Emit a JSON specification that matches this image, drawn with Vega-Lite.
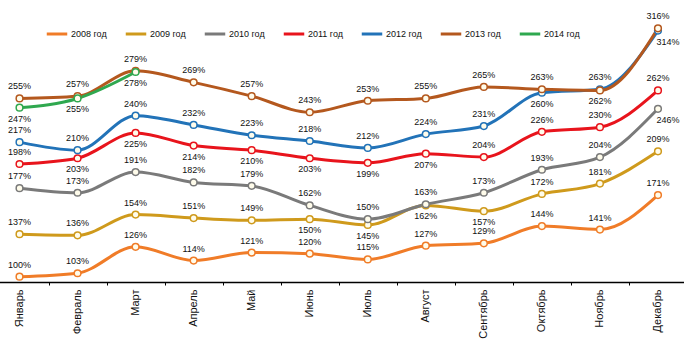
{
  "$schema": "https://vega.github.io/schema/vega-lite/v6.json",
  "width": 684,
  "height": 282,
  "padding": {"left": 0, "top": 0, "right": 0, "bottom": 59},
  "autosize": {"type": "none"},
  "background": "white",
  "config": {
    "font": "Liberation Sans",
    "view": {"stroke": null}
  },
  "data": {
    "values": [
      {"year": "2008 год", "month": "Январь", "value": 100},
      {"year": "2008 год", "month": "Февраль", "value": 103},
      {"year": "2008 год", "month": "Март", "value": 126},
      {"year": "2008 год", "month": "Апрель", "value": 114},
      {"year": "2008 год", "month": "Май", "value": 121},
      {"year": "2008 год", "month": "Июнь", "value": 120},
      {"year": "2008 год", "month": "Июль", "value": 115},
      {"year": "2008 год", "month": "Август", "value": 127},
      {"year": "2008 год", "month": "Сентябрь", "value": 129},
      {"year": "2008 год", "month": "Октябрь", "value": 144},
      {"year": "2008 год", "month": "Ноябрь", "value": 141},
      {"year": "2008 год", "month": "Декабрь", "value": 171},
      {"year": "2009 год", "month": "Январь", "value": 137},
      {"year": "2009 год", "month": "Февраль", "value": 136},
      {"year": "2009 год", "month": "Март", "value": 154},
      {"year": "2009 год", "month": "Апрель", "value": 151},
      {"year": "2009 год", "month": "Май", "value": 149},
      {"year": "2009 год", "month": "Июнь", "value": 150},
      {"year": "2009 год", "month": "Июль", "value": 145},
      {"year": "2009 год", "month": "Август", "value": 162},
      {"year": "2009 год", "month": "Сентябрь", "value": 157},
      {"year": "2009 год", "month": "Октябрь", "value": 172},
      {"year": "2009 год", "month": "Ноябрь", "value": 181},
      {"year": "2009 год", "month": "Декабрь", "value": 209},
      {"year": "2010 год", "month": "Январь", "value": 177},
      {"year": "2010 год", "month": "Февраль", "value": 173},
      {"year": "2010 год", "month": "Март", "value": 191},
      {"year": "2010 год", "month": "Апрель", "value": 182},
      {"year": "2010 год", "month": "Май", "value": 179},
      {"year": "2010 год", "month": "Июнь", "value": 162},
      {"year": "2010 год", "month": "Июль", "value": 150},
      {"year": "2010 год", "month": "Август", "value": 163},
      {"year": "2010 год", "month": "Сентябрь", "value": 173},
      {"year": "2010 год", "month": "Октябрь", "value": 193},
      {"year": "2010 год", "month": "Ноябрь", "value": 204},
      {"year": "2010 год", "month": "Декабрь", "value": 246},
      {"year": "2011 год", "month": "Январь", "value": 198},
      {"year": "2011 год", "month": "Февраль", "value": 203},
      {"year": "2011 год", "month": "Март", "value": 225},
      {"year": "2011 год", "month": "Апрель", "value": 214},
      {"year": "2011 год", "month": "Май", "value": 210},
      {"year": "2011 год", "month": "Июнь", "value": 203},
      {"year": "2011 год", "month": "Июль", "value": 199},
      {"year": "2011 год", "month": "Август", "value": 207},
      {"year": "2011 год", "month": "Сентябрь", "value": 204},
      {"year": "2011 год", "month": "Октябрь", "value": 226},
      {"year": "2011 год", "month": "Ноябрь", "value": 230},
      {"year": "2011 год", "month": "Декабрь", "value": 262},
      {"year": "2012 год", "month": "Январь", "value": 217},
      {"year": "2012 год", "month": "Февраль", "value": 210},
      {"year": "2012 год", "month": "Март", "value": 240},
      {"year": "2012 год", "month": "Апрель", "value": 232},
      {"year": "2012 год", "month": "Май", "value": 223},
      {"year": "2012 год", "month": "Июнь", "value": 218},
      {"year": "2012 год", "month": "Июль", "value": 212},
      {"year": "2012 год", "month": "Август", "value": 224},
      {"year": "2012 год", "month": "Сентябрь", "value": 231},
      {"year": "2012 год", "month": "Октябрь", "value": 260},
      {"year": "2012 год", "month": "Ноябрь", "value": 263},
      {"year": "2012 год", "month": "Декабрь", "value": 314},
      {"year": "2013 год", "month": "Январь", "value": 255},
      {"year": "2013 год", "month": "Февраль", "value": 257},
      {"year": "2013 год", "month": "Март", "value": 279},
      {"year": "2013 год", "month": "Апрель", "value": 269},
      {"year": "2013 год", "month": "Май", "value": 257},
      {"year": "2013 год", "month": "Июнь", "value": 243},
      {"year": "2013 год", "month": "Июль", "value": 253},
      {"year": "2013 год", "month": "Август", "value": 255},
      {"year": "2013 год", "month": "Сентябрь", "value": 265},
      {"year": "2013 год", "month": "Октябрь", "value": 263},
      {"year": "2013 год", "month": "Ноябрь", "value": 262},
      {"year": "2013 год", "month": "Декабрь", "value": 316},
      {"year": "2014 год", "month": "Январь", "value": 247},
      {"year": "2014 год", "month": "Февраль", "value": 255},
      {"year": "2014 год", "month": "Март", "value": 278}
    ]
  },
  "transform": [
    {"calculate": "datum.value + '%'", "as": "label"},
    {"calculate": "datum.year + '|' + datum.month", "as": "key"},
    {"calculate": "indexof(['2010 год|Декабрь','2012 год|Декабрь'], datum.key) >= 0 ? 'right' : (indexof(['2009 год|Июнь','2009 год|Июль','2009 год|Август','2009 год|Сентябрь','2011 год|Февраль','2011 год|Март','2011 год|Апрель','2011 год|Май','2011 год|Июнь','2011 год|Июль','2011 год|Август','2012 год|Октябрь','2013 год|Ноябрь','2014 год|Январь','2014 год|Февраль','2014 год|Март'], datum.key) >= 0 ? 'below' : 'above')", "as": "place"}
  ],
  "encoding": {
    "x": {
      "field": "month",
      "type": "ordinal",
      "sort": ["Январь","Февраль","Март","Апрель","Май","Июнь","Июль","Август","Сентябрь","Октябрь","Ноябрь","Декабрь"],
      "scale": {"type": "band", "range": [-9.5, 687], "paddingInner": 0, "paddingOuter": 0},
      "axis": {
        "title": null,
        "tickBand": "extent",
        "labelAngle": -90,
        "labelAlign": "right",
        "labelBaseline": "middle",
        "labelFontSize": 11,
        "labelColor": "#111",
        "labelPadding": 4,
        "tickSize": 3,
        "tickColor": "#000",
        "domainColor": "#000",
        "domainWidth": 1.5,
        "grid": false
      }
    },
    "y": {
      "field": "value",
      "type": "quantitative",
      "scale": {"domain": [95.4, 340.6], "nice": false, "zero": false},
      "axis": null
    },
    "color": {
      "field": "year",
      "type": "nominal",
      "scale": {
        "domain": ["2008 год","2009 год","2010 год","2011 год","2012 год","2013 год","2014 год"],
        "range": ["#F07C28","#CF9A1C","#7A7A7A","#E8141C","#2273B8","#B4581E","#2FA84F"]
      },
      "legend": {
        "orient": "none",
        "legendX": 45,
        "legendY": 22,
        "direction": "horizontal",
        "columns": 7,
        "columnPadding": 12,
        "title": null,
        "symbolType": "stroke",
        "symbolStrokeWidth": 3,
        "symbolSize": 420,
        "labelFontSize": 9,
        "labelColor": "#111",
        "labelOffset": 2
      }
    }
  },
  "layer": [
    {
      "mark": {"type": "line", "strokeWidth": 3, "interpolate": "monotone"}
    },
    {
      "mark": {"type": "point", "filled": false, "fill": "#FFFCEB", "fillOpacity": 1, "size": 45, "strokeWidth": 1.5, "opacity": 1}
    },
    {
      "transform": [{"filter": "datum.place == 'above'"}],
      "mark": {"type": "text", "dy": -12, "fontSize": 9, "baseline": "middle"},
      "encoding": {"text": {"field": "label"}, "color": {"value": "#111"}}
    },
    {
      "transform": [{"filter": "datum.place == 'below'"}],
      "mark": {"type": "text", "dy": 11, "fontSize": 9, "baseline": "middle"},
      "encoding": {"text": {"field": "label"}, "color": {"value": "#111"}}
    },
    {
      "transform": [{"filter": "datum.place == 'right'"}],
      "mark": {"type": "text", "dy": 11, "dx": 10, "fontSize": 9, "baseline": "middle"},
      "encoding": {"text": {"field": "label"}, "color": {"value": "#111"}}
    }
  ]
}
